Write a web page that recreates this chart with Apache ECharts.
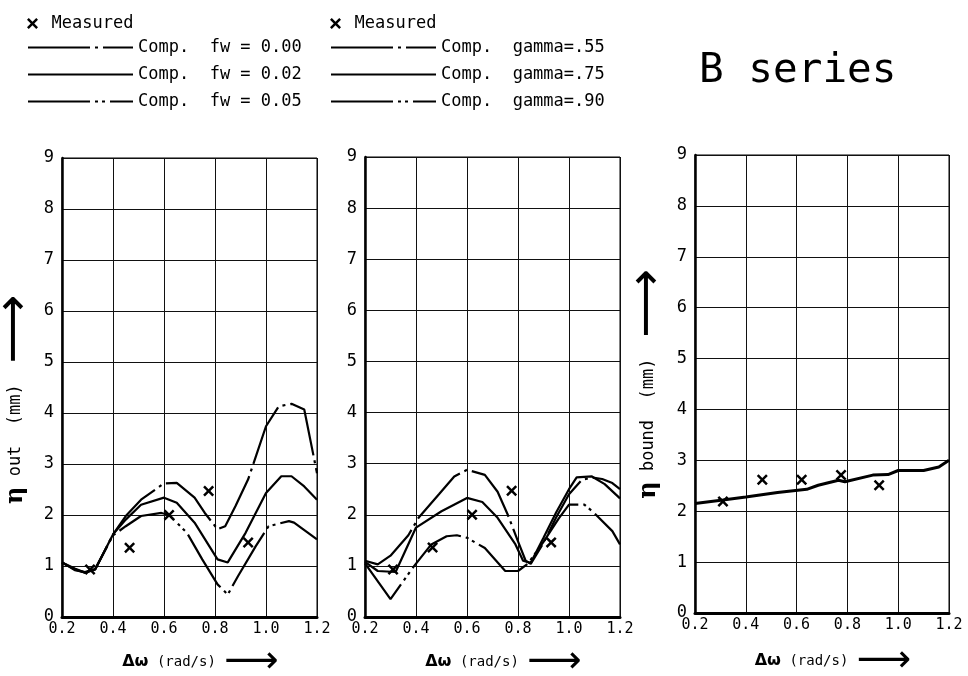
<!DOCTYPE html>
<html>
<head>
<meta charset="utf-8">
<script src="https://cdn.jsdelivr.net/npm/echarts@6/dist/echarts.min.js"></script>
<style>
html,body{margin:0;padding:0;background:#fff}
#c{width:968px;height:676px}
</style>
</head>
<body>
<div id="c"></div>
<script>
// Measured response (same test runs in all three panels)
const measuredOut = [[0.31,0.93],[0.465,1.36],[0.62,2.0],[0.775,2.47],[0.93,1.46]];
const measuredBound = [[0.31,2.19],[0.465,2.62],[0.62,2.62],[0.775,2.71],[0.925,2.51]];

// Computed eta out for different friction factors
const fw000 = [[0.2,1.07],[0.25,0.95],[0.29,0.87],[0.33,0.93],[0.4,1.62],[0.45,1.98],[0.51,2.3],[0.6,2.62],[0.65,2.63],[0.72,2.34],[0.76,2.04],[0.81,1.72],[0.84,1.78],[0.88,2.17],[0.93,2.7],[1.0,3.74],[1.05,4.13],[1.1,4.18],[1.15,4.07],[1.2,2.82]];
const fw002 = [[0.2,1.07],[0.25,0.93],[0.29,0.87],[0.33,0.93],[0.4,1.62],[0.45,1.91],[0.51,2.2],[0.6,2.34],[0.65,2.24],[0.72,1.85],[0.81,1.13],[0.85,1.07],[0.92,1.65],[1.0,2.43],[1.06,2.76],[1.1,2.76],[1.15,2.56],[1.2,2.3]];
const fw005 = [[0.2,1.07],[0.25,0.92],[0.29,0.88],[0.33,0.94],[0.4,1.6],[0.45,1.78],[0.51,1.98],[0.59,2.04],[0.62,2.0],[0.69,1.65],[0.75,1.13],[0.81,0.64],[0.85,0.44],[0.89,0.8],[0.96,1.39],[1.01,1.78],[1.09,1.88],[1.11,1.85],[1.2,1.52]];

// Computed eta out for different gamma values
const g055 = [[0.2,1.1],[0.25,1.03],[0.3,1.2],[0.37,1.6],[0.41,1.94],[0.49,2.4],[0.55,2.75],[0.6,2.88],[0.67,2.78],[0.72,2.45],[0.76,2.0],[0.8,1.48],[0.83,1.1],[0.85,1.04],[0.9,1.45],[0.95,1.95],[1.0,2.4],[1.05,2.68],[1.09,2.73],[1.13,2.7],[1.17,2.62],[1.2,2.5]];
const g075 = [[0.2,1.08],[0.25,0.9],[0.32,0.88],[0.4,1.75],[0.5,2.07],[0.6,2.33],[0.66,2.25],[0.72,1.94],[0.79,1.42],[0.82,1.1],[0.85,1.06],[0.9,1.55],[0.95,2.05],[1.0,2.5],[1.03,2.73],[1.09,2.75],[1.14,2.6],[1.2,2.32]];
const g090 = [[0.2,1.05],[0.3,0.35],[0.39,0.98],[0.46,1.42],[0.52,1.58],[0.56,1.6],[0.6,1.55],[0.67,1.35],[0.75,0.9],[0.8,0.9],[0.84,1.05],[0.9,1.47],[0.96,1.93],[1.0,2.2],[1.06,2.2],[1.1,2.03],[1.17,1.68],[1.2,1.42]];

// Computed eta bound
const boundComp = [[0.2,2.15],[0.31,2.22],[0.4,2.28],[0.525,2.37],[0.64,2.43],[0.685,2.51],[0.765,2.61],[0.79,2.58],[0.9,2.71],[0.96,2.72],[1.0,2.8],[1.1,2.8],[1.16,2.87],[1.2,3.0]];

const namesFw = ['Comp.  fw = 0.00', 'Comp.  fw = 0.02', 'Comp.  fw = 0.05'];
const namesGamma = ['Comp.  gamma=.55', 'Comp.  gamma=.75', 'Comp.  gamma=.90'];

const MONO = 'DejaVu Sans Mono';
const CROSS = 'path://M0,1.6L1.6,0L5,3.4L8.4,0L10,1.6L6.6,5L10,8.4L8.4,10L5,6.6L1.6,10L0,8.4L3.4,5Z';
const DASH_DOT = [62, 5, 3, 5];
const DASH_DOT_DOT = [62, 5, 3, 4, 3, 5];

const grids = [
  {left: 62, top: 158, width: 255, height: 459},
  {left: 365, top: 157, width: 255, height: 460},
  {left: 695, top: 155, width: 254, height: 458}
].map(g => Object.assign({show: true, borderColor: '#000', borderWidth: 1,
  containLabel: false, outerBoundsMode: 'none'}, g));

const xName = '{d|Δω} (rad/s) {arr|⟶}';
function xAxis(i) {
  return {
    type: 'value', gridIndex: i, min: 0.2, max: 1.2, interval: 0.2,
    name: xName, nameLocation: 'middle', nameGap: i === 2 ? 37 : 34,
    nameTextStyle: {
      fontFamily: MONO, fontSize: 14, color: '#000', padding: [0, 0, 0, 22],
      rich: {
        d: {fontFamily: 'DejaVu Sans', fontWeight: 'bold', fontSize: 16, lineHeight: 22, verticalAlign: 'middle'},
        arr: {fontFamily: 'DejaVu Sans', fontSize: 38, lineHeight: 22, verticalAlign: 'middle'}
      }
    },
    axisLine: {show: true, onZero: false, lineStyle: {color: '#000', width: 3}},
    axisTick: {show: false},
    axisLabel: {color: '#000', fontFamily: MONO, fontSize: 15, margin: 5,
      formatter: v => v.toFixed(1)},
    splitLine: {show: true, lineStyle: {color: '#111', width: 1}}
  };
}
function yAxis(i, name) {
  return {
    type: 'value', gridIndex: i, min: 0, max: 9, interval: 1,
    name: name || '', nameLocation: 'middle', nameRotate: 90, nameGap: 28,
    nameTextStyle: {
      fontFamily: MONO, fontSize: 17, color: '#000',
      padding: i === 0 ? [0, 24, 0, 0] : 0,
      rich: {
        eta: {fontFamily: 'DejaVu Serif', fontWeight: 'bold', fontSize: 24, lineHeight: 24, verticalAlign: 'middle'},
        arr: {fontFamily: 'DejaVu Sans', fontSize: 48, lineHeight: 24, verticalAlign: 'middle'}
      }
    },
    axisLine: {show: true, onZero: false, lineStyle: {color: '#000', width: 2.5}},
    axisTick: {show: false},
    axisLabel: {color: '#000', fontFamily: MONO, fontSize: 17, margin: 8, verticalAlign: 'middle'},
    splitLine: {show: true, lineStyle: {color: '#111', width: 1}}
  };
}

function lineSeries(name, data, idx, type, width) {
  return {
    name: name, type: 'line', xAxisIndex: idx, yAxisIndex: idx, data: data,
    symbol: 'none', smooth: false, silent: true, animation: false,
    lineStyle: {color: '#000', width: width || 2.2, type: type || 'solid'},
    itemStyle: {color: '#000'}
  };
}
function measuredSeries(data, idx) {
  return {
    name: 'Measured', type: 'scatter', xAxisIndex: idx, yAxisIndex: idx, data: data,
    symbol: CROSS, symbolSize: 11, itemStyle: {color: '#000', opacity: 1},
    silent: true, animation: false, z: 5
  };
}

const legendText = {color: '#000', fontFamily: MONO, fontSize: 17};
const lineLegend = {orient: 'vertical', top: 34, itemWidth: 105, itemHeight: 14, itemGap: 10,
  selectedMode: false, textStyle: legendText, itemStyle: {opacity: 0}};
const markLegend = {top: 10, itemWidth: 14, itemHeight: 11, itemGap: 6, selectedMode: false,
  textStyle: Object.assign({padding: [0, 0, 0, 7]}, legendText), itemStyle: {opacity: 1}};

const option = {
  backgroundColor: '#fff',
  animation: false,
  title: {text: 'B series', left: 694, top: 46,
    textStyle: {fontFamily: MONO, fontWeight: 'normal', fontSize: 41, color: '#000'}},
  legend: [
    Object.assign({data: ['Measured'], left: 22}, markLegend),
    Object.assign({data: namesFw, left: 22}, lineLegend),
    Object.assign({data: ['Measured'], left: 325}, markLegend),
    Object.assign({data: namesGamma, left: 325}, lineLegend)
  ],
  grid: grids,
  xAxis: [xAxis(0), xAxis(1), xAxis(2)],
  yAxis: [
    yAxis(0, '{eta|η} out  (mm)  {arr|⟶}'),
    yAxis(1, ''),
    yAxis(2, '{eta|η} bound  (mm)  {arr|⟶}')
  ],
  series: [
    lineSeries(namesFw[0], fw000, 0, DASH_DOT),
    lineSeries(namesFw[1], fw002, 0, 'solid'),
    lineSeries(namesFw[2], fw005, 0, DASH_DOT_DOT),
    measuredSeries(measuredOut, 0),
    lineSeries(namesGamma[0], g055, 1, DASH_DOT),
    lineSeries(namesGamma[1], g075, 1, 'solid'),
    lineSeries(namesGamma[2], g090, 1, DASH_DOT_DOT),
    measuredSeries(measuredOut, 1),
    lineSeries('Comp. bound', boundComp, 2, 'solid', 3),
    measuredSeries(measuredBound, 2)
  ]
};

const chart = echarts.init(document.getElementById('c'), null, {renderer: 'canvas'});
chart.setOption(option);
</script>
</body>
</html>
